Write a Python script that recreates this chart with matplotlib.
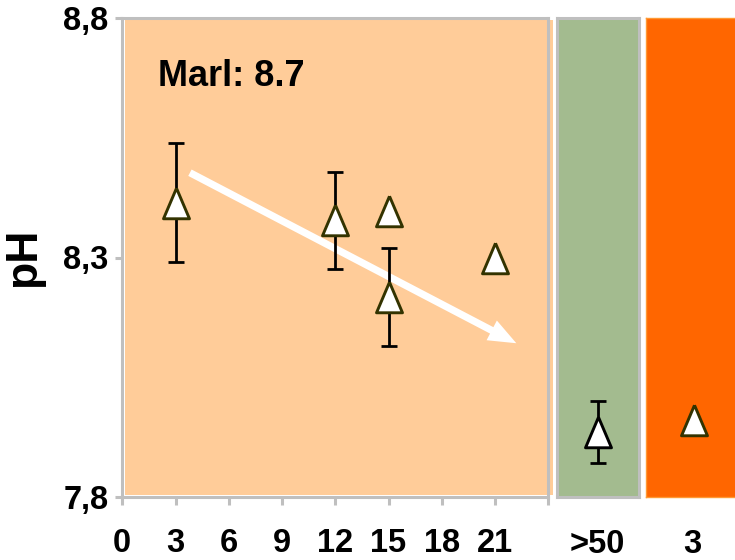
import numpy as np
import matplotlib.pyplot as plt
from matplotlib.patches import Rectangle

plt.rcParams['font.family'] = ['Liberation Sans', 'DejaVu Sans']
plt.rcParams['font.weight'] = 'bold'

# Marl sites: age (years) vs pH
age = [3, 12, 15, 15, 21]
ph = [8.414, 8.378, 8.398, 8.218, 8.300]
ph_err = [0.124, 0.101, 0.0, 0.102, 0.0]
has_err = [True, True, False, True, False]

# reference site (>50 years) and the 3-year site on the other substrate
ref_ph = [7.936]
ref_err = [0.064]
other_ph = [7.960]

y_ticks = [7.8, 8.3, 8.8]
y_tick_labels = ['7,8', '8,3', '8,8']
x_ticks = [0, 3, 6, 9, 12, 15, 18, 21, 24]
x_tick_labels = ['0', '3', '6', '9', '12', '15', '18', '21', '']
marl_note = 'Marl: 8.7'
trend_start = (3.81, 8.477)
trend_end = (22.2, 8.121)

W, H = 735, 560
fig = plt.figure(figsize=(W / 100, H / 100), dpi=100)

def box(x0, y0, x1, y1):
    return [x0 / W, 1 - y1 / H, (x1 - x0) / W, (y1 - y0) / H]

GRAY = '#BFBFBF'
EDGE = '#333300'
tri = [(0, 1), (-0.85, -1), (0.85, -1), (0, 1)]
MS, MEW = 22, 2.1
FS = 23.5
EB = dict(fmt='none', ecolor='black', elinewidth=2.0, capsize=6,
          capthick=2.0, zorder=3)

# main panel
ax = fig.add_axes(box(122.3, 18, 548.3, 497))
ax.set_facecolor('none')
ax.add_patch(Rectangle((0.006, 0.004), 1.004, 0.992, transform=ax.transAxes,
                       facecolor='#FFCC99', edgecolor='none', zorder=0,
                       clip_on=False))
ax.set_xlim(0, 24)
ax.set_ylim(7.8, 8.8)
for s in ax.spines.values():
    s.set_color(GRAY)
    s.set_linewidth(2.2)
    s.set_zorder(3)
ax.set_xticks(x_ticks)
ax.set_xticklabels(x_tick_labels, fontsize=FS, fontweight='bold')
ax.set_yticks(y_ticks)
ax.set_yticklabels(y_tick_labels, fontsize=FS, fontweight='bold')
ax.tick_params(axis='x', length=6, width=2.2, color=GRAY, pad=16.5)
ax.tick_params(axis='y', length=5, width=2.2, color=GRAY, pad=5)
ax.set_ylabel('pH', fontsize=32, fontweight='bold', labelpad=14)

ax.annotate('', xy=trend_end, xytext=trend_start,
            arrowprops=dict(arrowstyle='simple,head_length=1.0,head_width=0.8,'
                                       'tail_width=0.26',
                            facecolor='white', edgecolor='none', lw=0,
                            mutation_scale=20, shrinkA=0, shrinkB=0),
            zorder=2)

ex = [a for a, m in zip(age, has_err) if m]
ey = [p for p, m in zip(ph, has_err) if m]
ee = [e for e, m in zip(ph_err, has_err) if m]
ax.errorbar(ex, ey, yerr=ee, **EB)
ax.plot(age, ph, linestyle='none', marker=tri, ms=MS, mfc='white',
        mec=EDGE, mew=MEW, zorder=4)
ax.text(0.083, 0.857, marl_note, transform=ax.transAxes, fontsize=26,
        fontweight='bold', va='baseline', ha='left')

# reference panel (>50)
ax2 = fig.add_axes(box(557, 18, 638.5, 497))
ax2.set_facecolor('#A3BB8F')
ax2.set_xlim(0, 1)
ax2.set_ylim(7.8, 8.8)
for s in ax2.spines.values():
    s.set_color(GRAY)
    s.set_linewidth(2.2)
ax2.set_yticks([])
ax2.set_xticks([0.5])
ax2.set_xticklabels(['>50'], fontsize=FS, fontweight='bold')
ax2.tick_params(axis='x', length=0, pad=23)
ax2.errorbar([0.5], ref_ph, yerr=ref_err, **EB)
ax2.plot([0.5], ref_ph, linestyle='none', marker=tri, ms=MS, mfc='white',
         mec='black', mew=MEW, zorder=4)

# 3-year panel on the other substrate
ax3 = fig.add_axes(box(645.5, 18, 743, 497))
ax3.set_facecolor('#FF6600')
ax3.set_xlim(0, 1)
ax3.set_ylim(7.8, 8.8)
for s in ax3.spines.values():
    s.set_color('#FF9933')
    s.set_linewidth(1.0)
ax3.set_yticks([])
ax3.set_xticks([0.48])
ax3.set_xticklabels(['3'], fontsize=FS, fontweight='bold')
ax3.tick_params(axis='x', length=0, pad=23)
ax3.plot([0.5], other_ph, linestyle='none', marker=tri, ms=MS, mfc='white',
         mec=EDGE, mew=MEW, zorder=4)

fig.savefig('out.png', dpi=100)
